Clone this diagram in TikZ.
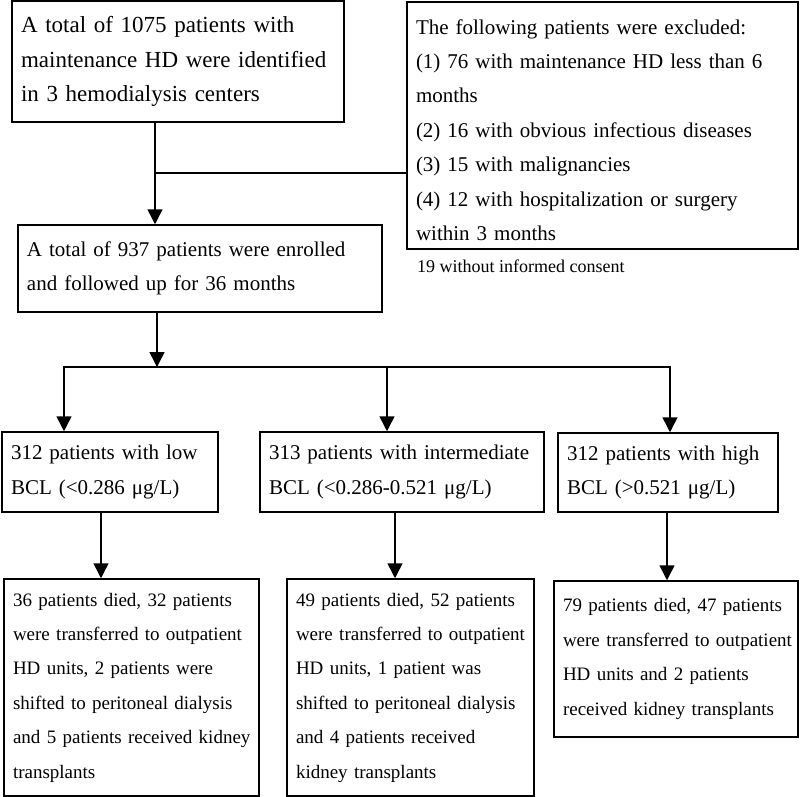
\documentclass[tikz,border=0pt]{standalone}
\usepackage{fontspec}
\setmainfont{Liberation Serif}
\usetikzlibrary{arrows.meta}
\newcommand\fsz[1]{\fontsize{#1}{34.4}\selectfont}
\begin{document}
\begin{tikzpicture}[x=1pt,y=-1pt,
  box/.style={draw, line width=1.5pt, inner xsep=9pt, inner ysep=0pt, align=left},
  arr/.style={line width=1.5pt, -{Triangle[width=15pt,length=15pt]}},
  arrboth/.style={line width=1.5pt, {Triangle[width=15pt,length=15pt]}-{Triangle[width=15pt,length=15pt]}},
  conn/.style={line width=1.5pt}]
\useasboundingbox (0,0) rectangle (800,797);
\node[box, minimum width=332pt, text width=314pt, minimum height=121pt, font=\fsz{23}] (b1) at (178,61.5)
  {\mbox{A total of 1075 patients with}\\\mbox{maintenance HD were identified}\\\mbox{in 3 hemodialysis centers}};
\node[box, minimum width=391pt, text width=373pt, minimum height=247pt, font=\fsz{21}] (ex) at (602.5,125.5)
  {\mbox{\rule{0pt}{24pt}The following patients were excluded:}\\\mbox{(1) 76 with maintenance HD less than 6}\\\mbox{months}\\\mbox{(2) 16 with obvious infectious diseases}\\\mbox{(3) 15 with malignancies}\\\mbox{(4) 12 with hospitalization or surgery}\\\mbox{within 3 months}};
\node[anchor=base west, inner sep=0pt, font=\fsz{18}] (note) at (417,272) {19 without informed consent};
\node[box, minimum width=364pt, text width=346pt, minimum height=87pt, font=\fsz{21}] (b2) at (200,268.5)
  {\mbox{A total of 937 patients were enrolled}\\\mbox{and followed up for 36 months}};
\node[box, minimum width=216pt, text width=198pt, minimum height=80pt, font=\fsz{21}] (l1) at (110,472)
  {\mbox{312 patients with low}\\\mbox{BCL (<0.286 μg/L)}};
\node[box, minimum width=284pt, text width=266pt, minimum height=80pt, font=\fsz{21}] (m1) at (402,472)
  {\mbox{313 patients with intermediate}\\\mbox{BCL (<0.286-0.521 μg/L)}};
\node[box, minimum width=220pt, text width=202pt, minimum height=79pt, font=\fsz{21}] (h1) at (668,472.5)
  {\mbox{312 patients with high}\\\mbox{BCL (>0.521 μg/L)}};
\node[box, minimum width=255pt, text width=237pt, minimum height=217pt, font=\fsz{19}] (l2) at (131.5,687.5)
  {\mbox{36 patients died, 32 patients}\\\mbox{were transferred to outpatient}\\\mbox{HD units, 2 patients were}\\\mbox{shifted to peritoneal dialysis}\\\mbox{and 5 patients received kidney}\\\mbox{transplants}};
\node[box, minimum width=247pt, text width=229pt, minimum height=217pt, font=\fsz{19}] (m2) at (410.5,687.5)
  {\mbox{49 patients died, 52 patients}\\\mbox{were transferred to outpatient}\\\mbox{HD units, 1 patient was}\\\mbox{shifted to peritoneal dialysis}\\\mbox{and 4 patients received}\\\mbox{kidney transplants}};
\node[box, minimum width=244pt, text width=226pt, minimum height=156pt, font=\fsz{19}] (h2) at (676,659)
  {\mbox{79 patients died, 47 patients}\\\mbox{were transferred to outpatient}\\\mbox{HD units and 2 patients}\\\mbox{received kidney transplants}};
% connectors
\coordinate (c1) at (155,0);
\coordinate (j1) at (155,173);
\draw[arr] (b1.south -| c1) -- (b2.north -| c1);
\draw[conn] (j1) -- (j1 -| ex.west);
\coordinate (j2) at (157,367);
\draw[arr] (b2.south -| j2) -- (j2);
\coordinate (hl) at (64,367);
\coordinate (hm) at (387,367);
\coordinate (hr) at (670,367);
\draw[arrboth] (l1.north -| hl) -- (hl) -- (hr) -- (h1.north -| hr);
\draw[arr] (hm) -- (m1.north -| hm);
\coordinate (xl) at (101,0);
\coordinate (xm) at (395,0);
\coordinate (xh) at (667,0);
\draw[arr] (l1.south -| xl) -- (l2.north -| xl);
\draw[arr] (m1.south -| xm) -- (m2.north -| xm);
\draw[arr] (h1.south -| xh) -- (h2.north -| xh);
\end{tikzpicture}
\end{document}
